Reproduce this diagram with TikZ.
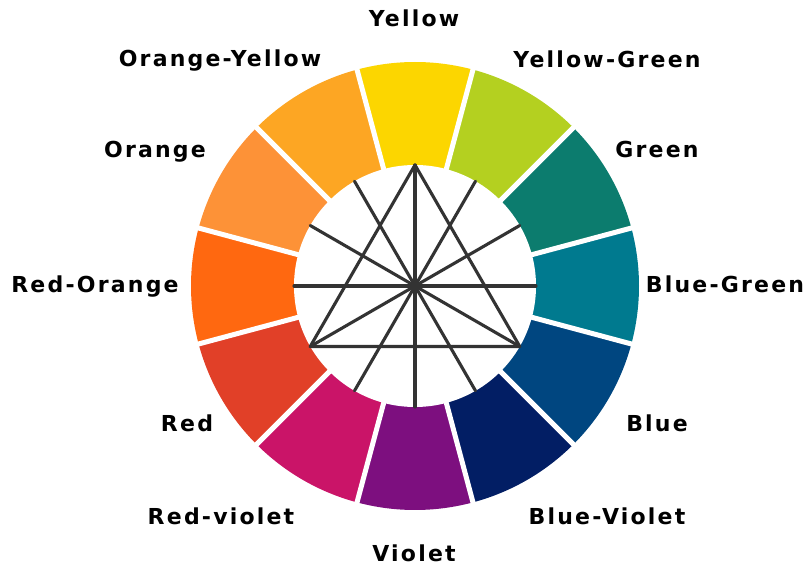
\documentclass[tikz,border=0pt]{standalone}
\usepackage{fontspec}
\setmainfont{DejaVu Sans}
\newfontfamily\lblfont[LetterSpace=10]{DejaVu Sans}
\usetikzlibrary{calc}
\definecolor{cY}{RGB}{252,214,0}
\definecolor{cYG}{RGB}{180,208,32}
\definecolor{cG}{RGB}{12,124,110}
\definecolor{cBG}{RGB}{0,122,143}
\definecolor{cB}{RGB}{0,70,128}
\definecolor{cBV}{RGB}{2,30,100}
\definecolor{cV}{RGB}{125,15,127}
\definecolor{cRV}{RGB}{202,20,104}
\definecolor{cR}{RGB}{225,64,40}
\definecolor{cRO}{RGB}{255,104,16}
\definecolor{cO}{RGB}{253,146,55}
\definecolor{cOY}{RGB}{253,166,35}
\definecolor{lineg}{RGB}{51,51,51}
\tikzset{
  lbl/.style={font=\lblfont\fontsize{22}{26}\selectfont\bfseries, anchor=base, inner sep=0pt},
  spoke/.style={draw=lineg, line width=3.1pt, line cap=round, line join=round},
  gapline/.style={draw=white, line width=5pt}
}
\begin{document}
\begin{tikzpicture}[x=1pt,y=1pt]
\useasboundingbox (0,0) rectangle (804,568);
\fill[white] (0,0) rectangle (804,568);
\coordinate (c) at (415,282);
\def\Ro{224}
\def\Ri{116}
% segments
\foreach \ang/\col in {90/cY,60/cYG,30/cG,0/cBG,-30/cB,-60/cBV,-90/cV,-120/cRV,-150/cR,180/cRO,150/cO,120/cOY}{
  \fill[\col] ($(c)+(\ang-15:\Ri)$) -- ($(c)+(\ang-15:\Ro)$) arc[start angle=\ang-15, end angle=\ang+15, radius=\Ro] -- ($(c)+(\ang+15:\Ri)$) -- cycle;
}
% gaps
\foreach \ang in {15,45,75,105,135,165,195,225,255,285,315,345}{
  \draw[gapline] ($(c)+(\ang:100)$) -- ($(c)+(\ang:235)$);
}
% inner white disc
\fill[white] (c) circle[radius=121];
% points on inner circle
\foreach \i in {0,...,11}{
  \coordinate (p\i) at ($(c)+(90-30*\i:121)$);
}
% diameters
\foreach \i in {0,...,5}{
  \pgfmathtruncatemacro{\j}{\i+6}
  \draw[spoke] (p\i) -- (p\j);
}
% triangle
\draw[spoke] (p0) -- (p4) -- (p8) -- cycle;
% labels
\node[lbl] (lY) at (414,541) {Yellow};
\node[lbl] (lOY) at (220,501) {Orange-Yellow};
\node[lbl] (lYG) at (607,500) {Yellow-Green};
\node[lbl] (lO) at (155,410) {Orange};
\node[lbl] (lG) at (657,410) {Green};
\node[lbl] (lRO) at (95,275) {Red-Orange};
\node[lbl] (lBG) at (725,275) {Blue-Green};
\node[lbl] (lR) at (187,136) {Red};
\node[lbl] (lB) at (657,136) {Blue};
\node[lbl] (lRV) at (221,43) {Red-violet};
\node[lbl] (lBV) at (607,43) {Blue-Violet};
\node[lbl] (lV) at (414,6) {Violet};
\end{tikzpicture}
\end{document}
